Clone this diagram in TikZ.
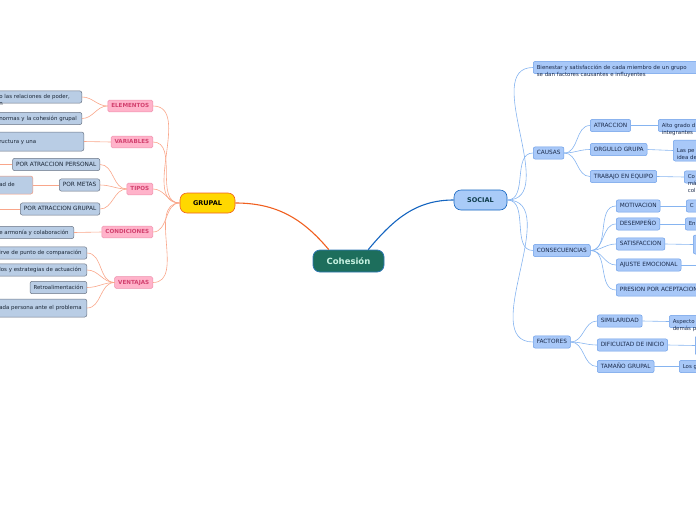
\documentclass[tikz,border=0pt]{standalone}
\usepackage{fontspec}
\setmainfont{DejaVu Sans}
\usetikzlibrary{positioning}

\definecolor{rootfill}{HTML}{1D6E5C}
\definecolor{rootdraw}{HTML}{2F78B4}
\definecolor{roottext}{HTML}{C8F2E2}
\definecolor{grpfill}{HTML}{FFD800}
\definecolor{grpdraw}{HTML}{F06020}
\definecolor{socfill}{HTML}{A9CBF8}
\definecolor{socdraw}{HTML}{1565C0}
\definecolor{soctext}{HTML}{0D3B4A}
\definecolor{pinkfill}{HTML}{FFB3CA}
\definecolor{pinkdraw}{HTML}{EE8FAC}
\definecolor{pinktext}{HTML}{D2406E}
\definecolor{greyfill}{HTML}{B9CDE5}
\definecolor{greydraw}{HTML}{6A7484}
\definecolor{greytext}{HTML}{1A2636}
\definecolor{bluefill}{HTML}{A8C8F8}
\definecolor{bluedraw}{HTML}{6C9FE8}
\definecolor{bluetext}{HTML}{1A2A4A}
\definecolor{linkL}{HTML}{F9A68A}
\definecolor{linkR}{HTML}{86B4F0}
\definecolor{salmon}{HTML}{F29A7E}

\tikzset{
  rootbox/.style={fill=rootfill, draw=rootdraw, line width=0.8pt, rounded corners=7pt,
    text=roottext, font=\fontsize{8.5}{9}\selectfont\bfseries, minimum width=71pt, minimum height=22pt},
  grpbox/.style={fill=grpfill, draw=grpdraw, line width=0.6pt, rounded corners=7pt,
    text=black, font=\fontsize{6.5}{7}\selectfont\bfseries, minimum width=55pt, minimum height=20pt},
  socbox/.style={fill=socfill, draw=socdraw, line width=0.6pt, rounded corners=7pt,
    text=soctext, font=\fontsize{6.5}{7}\selectfont\bfseries, minimum width=53pt, minimum height=20pt},
  pinkbox/.style={fill=pinkfill, draw=pinkdraw, line width=0.5pt, rounded corners=1.5pt,
    text=pinktext, font=\fontsize{5.6}{7}\selectfont\bfseries, inner xsep=3.5pt, inner ysep=3.3pt,
    text height=4.3pt, text depth=0.9pt, anchor=east},
  greybox/.style={fill=greyfill, draw=greydraw, line width=0.5pt, rounded corners=2pt,
    text=greytext, font=\fontsize{5.8}{7}\selectfont, inner xsep=3.5pt, inner ysep=3.3pt,
    text height=4.4pt, text depth=1.2pt, anchor=east},
  bluebox/.style={fill=bluefill, draw=bluedraw, line width=0.5pt, rounded corners=2pt,
    text=bluetext, font=\fontsize{5.8}{7}\selectfont, inner xsep=3.5pt, inner ysep=3.3pt,
    text height=4.4pt, text depth=1.2pt, anchor=west},
  lc/.style={font=\fontsize{5.45}{7}\selectfont},
  cutl/.style={text width=#1, align=left, lc},
  cutr/.style={text width=60pt, align=left, lc},
  lkL/.style={draw=linkL, line width=0.6pt},
  lkR/.style={draw=linkR, line width=0.6pt},
}

\begin{document}
\begin{tikzpicture}[x=1pt, y=-1pt]
  \useasboundingbox (0,0) rectangle (696,520);
  \clip (0,0) rectangle (696,520);

  % central node and main branches
  \node[rootbox] (coh) at (348.5,261) {Cohesión};
  \node[grpbox] (grp) at (207.5,203) {GRUPAL};
  \node[socbox] (soc) at (480.5,200) {SOCIAL};
  \draw[draw=grpdraw, line width=1.1pt] (coh.150) to[out=130,in=0] (grp.east);
  \draw[draw=socdraw, line width=1.1pt] (coh.30) to[out=50,in=180] (soc.west);

  % ---- GRUPAL side
  \node[pinkbox] (ele) at (153,106) {ELEMENTOS};
  \node[pinkbox] (var) at (153,142) {VARIABLES};
  \node[pinkbox] (tip) at (153,189) {TIPOS};
  \node[pinkbox] (cnd) at (153,232) {CONDICIONES};
  \node[pinkbox] (ven) at (153,282.5) {VENTAJAS};
  \foreach \n in {ele,var,tip,cnd,ven}
    \draw[lkL] (grp.west) to[out=180,in=0] (\n.east);

  % elementos
  \node[greybox, cutl=79pt] (ele1) at (82,97) {\mbox{o las relaciones de poder,}\\n};
  \node[greybox, cutl=79pt] (ele2) at (82,118.5) {\mbox{normas y la cohesión grupal}};
  \draw[lkL] (ele.west) to[out=180,in=0] (ele1.east);
  \draw[lkL] (ele.west) to[out=180,in=0] (ele2.east);

  % variables
  \node[greybox, cutl=81pt, minimum height=19pt] (var1) at (84,141.5) {\mbox{ructura y una}};
  \draw[lkL] (var.west) -- (var1.east);

  % tipos
  \node[greybox] (tip1) at (100,164.5) {POR ATRACCION PERSONAL};
  \node[greybox] (tip2) at (100,185) {POR METAS};
  \node[greybox] (tip3) at (100,209) {POR ATRACCION GRUPAL};
  \node[greybox, draw=salmon, cutl=30pt, minimum height=18pt] (tip2a) at (33,185) {\mbox{ad de}};
  \coordinate (tip1x) at (-10,164.5);
  \coordinate (tip3x) at (-10,209);
  \foreach \n in {tip1,tip2,tip3}
    \draw[lkL] (tip.west) to[out=180,in=0] (\n.east);
  \draw[lkL] (tip1.west) -- (tip1x);
  \draw[lkL] (tip2.west) -- (tip2a.east);
  \draw[lkL] (tip3.west) -- (tip3x);

  % condiciones
  \node[greybox, cutl=71pt] (cnd1) at (74,232.5) {\mbox{e armonía y colaboración}};
  \draw[lkL] (cnd.west) -- (cnd1.east);

  % ventajas
  \node[greybox, cutl=84pt] (ven1) at (87,253) {\mbox{irve de punto de comparación}};
  \node[greybox, cutl=84pt] (ven2) at (87,270) {\mbox{los y estrategias de actuación}};
  \node[greybox, lc] (ven3) at (87,287.5) {Retroalimentación};
  \node[greybox, cutl=84pt, minimum height=18pt] (ven4) at (87,308) {\mbox{ada persona ante el problema}};
  \foreach \n in {ven1,ven2,ven3,ven4}
    \draw[lkL] (ven.west) to[out=180,in=0] (\n.east);

  % ---- SOCIAL side
  \node[bluebox, lc, text width=200pt, align=left] (bie) at (533,67.5)
    {Bienestar y satisfacción de cada miembro de un grupo\\se dan factores causantes e influyentes};
  \node[bluebox] (cau) at (533,153) {CAUSAS};
  \node[bluebox] (cns) at (533,250.5) {CONSECUENCIAS};
  \node[bluebox] (fac) at (533,342) {FACTORES};
  \foreach \n in {bie,cau,cns,fac}
    \draw[lkR] (soc.east) to[out=0,in=180] (\n.west);

  % causas
  \node[bluebox] (atr) at (590,125.5) {ATRACCION};
  \node[bluebox] (org) at (590,149.5) {ORGULLO GRUPA};
  \node[bluebox] (tra) at (590,176.5) {TRABAJO EN EQUIPO};
  \foreach \n in {atr,org,tra}
    \draw[lkR] (cau.east) to[out=0,in=180] (\n.west);
  \node[bluebox, cutr] (atr1) at (658,125.5) {Alto grado d\\integrantes};
  \node[bluebox, cutr, minimum height=21pt] (org1) at (673,150.5) {Las pe\\idea de};
  \node[bluebox, cutr] (tra1) at (684,177) {Co\\má\\col};
  \draw[lkR] (atr.east) -- (atr1.west);
  \draw[lkR] (org.east) -- (org1.west);
  \draw[lkR] (tra.east) -- (tra1.west);

  % consecuencias
  \node[bluebox] (mot) at (616,206) {MOTIVACION};
  \node[bluebox] (des) at (616,224) {DESEMPEÑO};
  \node[bluebox] (sat) at (616,244) {SATISFACCION};
  \node[bluebox] (aju) at (616,265) {AJUSTE EMOCIONAL};
  \node[bluebox] (pre) at (616,290) {PRESION POR ACEPTACION};
  \foreach \n in {mot,des,sat,aju,pre}
    \draw[lkR] (cns.east) to[out=0,in=180] (\n.west);
  \node[bluebox, cutr] (mot1) at (686,206) {C};
  \node[bluebox, cutr] (des1) at (685,224) {En};
  \node[bluebox, cutr, minimum height=19pt] (sat1) at (693,244.5) {};
  \coordinate (ajux) at (710,265);
  \draw[lkR] (mot.east) -- (mot1.west);
  \draw[lkR] (des.east) -- (des1.west);
  \draw[lkR] (sat.east) -- (sat1.west);
  \draw[lkR] (aju.east) -- (ajux);

  % factores
  \node[bluebox] (sim) at (597,321) {SIMILARIDAD};
  \node[bluebox] (dif) at (597,345) {DIFICULTAD DE INICIO};
  \node[bluebox] (tam) at (597,366.5) {TAMAÑO GRUPAL};
  \foreach \n in {sim,dif,tam}
    \draw[lkR] (fac.east) to[out=0,in=180] (\n.west);
  \node[bluebox, cutr] (sim1) at (669,321.5) {Aspecto\\demás p};
  \node[bluebox, cutr, minimum height=19pt] (dif1) at (695,345.5) {};
  \node[bluebox, cutr] (tam1) at (679,366.5) {Los g};
  \draw[lkR] (sim.east) -- (sim1.west);
  \draw[lkR] (dif.east) -- (dif1.west);
  \draw[lkR] (tam.east) -- (tam1.west);
\end{tikzpicture}
\end{document}
